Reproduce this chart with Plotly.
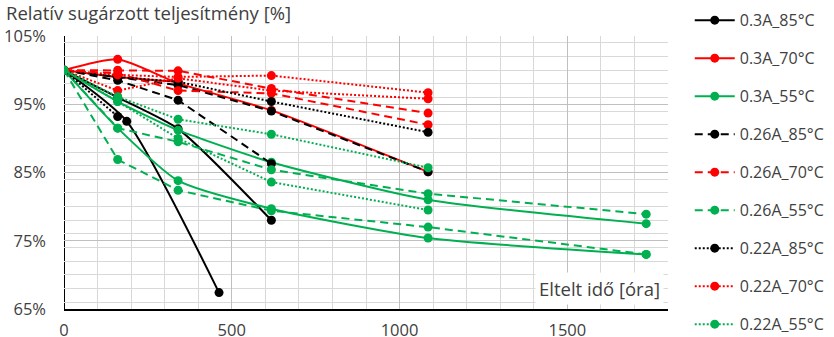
import plotly.graph_objects as go

# ---- data (hours, relative radiant power %) ----
x_030_85_a = [0, 187, 462]
y_030_85_a = [100, 92.5, 67.4]
x_030_85_b = [0, 160, 340, 618]
y_030_85_b = [100, 96.0, 91.4, 78.0]

x_030_70_a = [0, 160, 340, 618, 1085]
y_030_70_a = [100, 101.6, 98.1, 94.1, 85.1]
x_030_70_b = [0, 160, 340]
y_030_70_b = [100, 99.0, 98.3]

x_030_55_a = [0, 160, 340, 618, 1085, 1735]
y_030_55_a = [100, 95.4, 91.2, 86.5, 81.0, 77.5]
x_030_55_b = [0, 160, 340, 618, 1085, 1735]
y_030_55_b = [100, 91.5, 83.8, 79.7, 75.4, 73.0]

x_026_85_a = [0, 160, 340, 618, 1085]
y_026_85_a = [100, 99.0, 97.8, 94.0, 85.1]
x_026_85_b = [0, 160, 340, 618]
y_026_85_b = [100, 98.5, 95.6, 86.3]

x_026_70_a = [0, 160, 340, 618, 1085]
y_026_70_a = [100, 100.0, 99.9, 97.3, 93.7]
x_026_70_b = [0, 160, 340, 618, 1085]
y_026_70_b = [100, 99.5, 97.0, 96.6, 92.0]

x_026_55_a = [0, 160, 340, 618, 1085, 1735]
y_026_55_a = [100, 86.9, 82.4, 79.4, 77.0, 73.0]
x_026_55_b = [0, 160, 340, 618, 1085, 1735]
y_026_55_b = [100, 91.5, 89.5, 85.4, 81.9, 78.9]

x_022_85_a = [0, 160, 340, 618, 1085]
y_022_85_a = [100, 99.0, 98.3, 95.4, 90.9]
x_022_85_b = [0, 160]
y_022_85_b = [100, 93.2]

x_022_70_a = [0, 160, 340, 618, 1085]
y_022_70_a = [100, 99.3, 99.0, 99.2, 96.7]
x_022_70_b = [0, 160, 340, 618, 1085]
y_022_70_b = [100, 97.0, 98.8, 97.0, 95.8]

x_022_55_a = [0, 160, 340, 618, 1085]
y_022_55_a = [100, 96.1, 92.8, 90.6, 85.7]
x_022_55_b = [0, 160, 340, 618, 1085]
y_022_55_b = [100, 95.4, 90.0, 83.6, 79.5]

series_names = ["0.3A_85°C", "0.3A_70°C", "0.3A_55°C",
                "0.26A_85°C", "0.26A_70°C", "0.26A_55°C",
                "0.22A_85°C", "0.22A_70°C", "0.22A_55°C"]

y_tick_vals = [65, 75, 85, 95, 105]
y_tick_text = ["65%", "75%", "85%", "95%", "105%"]
x_tick_vals = [0, 500, 1000, 1500]

# ---- styling ----
BLACK, RED, GREEN = "#000000", "#FF0000", "#00B050"
DOT = "2px,2px"
DASH = "8px,5px"
groups = [
    (series_names[0], BLACK, "solid", True, [(x_030_85_a, y_030_85_a), (x_030_85_b, y_030_85_b)]),
    (series_names[1], RED, "solid", True, [(x_030_70_a, y_030_70_a), (x_030_70_b, y_030_70_b)]),
    (series_names[2], GREEN, "solid", True, [(x_030_55_a, y_030_55_a), (x_030_55_b, y_030_55_b)]),
    (series_names[3], BLACK, DASH, False, [(x_026_85_a, y_026_85_a), (x_026_85_b, y_026_85_b)]),
    (series_names[4], RED, DASH, False, [(x_026_70_a, y_026_70_a), (x_026_70_b, y_026_70_b)]),
    (series_names[5], GREEN, DASH, False, [(x_026_55_a, y_026_55_a), (x_026_55_b, y_026_55_b)]),
    (series_names[6], BLACK, DOT, False, [(x_022_85_a, y_022_85_a), (x_022_85_b, y_022_85_b)]),
    (series_names[7], RED, DOT, False, [(x_022_70_a, y_022_70_a), (x_022_70_b, y_022_70_b)]),
    (series_names[8], GREEN, DOT, False, [(x_022_55_a, y_022_55_a), (x_022_55_b, y_022_55_b)]),
]

fig = go.Figure()
for name, color, dash, smooth, lines in groups:
    for i, (xs, ys) in enumerate(lines):
        fig.add_trace(go.Scatter(
            x=xs, y=ys, mode="lines+markers", name=name,
            legendgroup=name, showlegend=(i == 0),
            line=dict(color=color, width=2, dash=dash,
                      shape="spline" if smooth else "linear", smoothing=0.6),
            marker=dict(color=color, size=9),
        ))

TXT = "#404040"
FONT = "Open Sans"
fig.update_layout(
    width=834, height=337,
    margin=dict(l=64, r=166, t=36, b=28, autoexpand=False),
    paper_bgcolor="white", plot_bgcolor="white",
    font=dict(family=FONT, color=TXT, size=16),
    legend=dict(x=1.036, y=1.12, xanchor="left", yanchor="top",
                font=dict(size=16, color=TXT), tracegroupgap=14.2,
                itemwidth=40, bgcolor="rgba(0,0,0,0)", maxheight=400),
    xaxis=dict(range=[0, 1800], tickvals=x_tick_vals, showgrid=True,
               gridcolor="#BFBFBF", gridwidth=1, automargin=False,
               minor=dict(dtick=100, showgrid=True, gridcolor="#D9D9D9", gridwidth=1),
               showline=True, linecolor="black", linewidth=2,
               zeroline=False, ticks="", ticklabelstandoff=5,
               tickfont=dict(size=16.5, color=TXT)),
    yaxis=dict(range=[65, 105], tickvals=y_tick_vals, ticktext=y_tick_text,
               showgrid=True, gridcolor="#BFBFBF", gridwidth=1, automargin=False,
               minor=dict(dtick=2, showgrid=True, gridcolor="#D9D9D9", gridwidth=1),
               showline=False, zeroline=False, ticks="", ticklabelstandoff=17,
               tickfont=dict(size=16.5, color=TXT)),
    annotations=[
        dict(text="Relatív sugárzott teljesítmény [%]", xref="paper", yref="paper",
             x=-0.099, y=1.086, xanchor="left", yanchor="middle", showarrow=False,
             font=dict(size=18.5, color=TXT)),
        dict(text="Eltelt idő [óra]", xref="paper", yref="paper",
             x=0.993, y=0.015, xanchor="right", yanchor="bottom", showarrow=False,
             bgcolor="white", borderpad=3, font=dict(size=18.5, color=TXT)),
    ],
    shapes=[dict(type="line", xref="x", yref="paper", x0=0, x1=0, y0=0, y1=1,
                 line=dict(color="black", width=2), layer="below")],
)

fig.write_html("out.html", config={"displayModeBar": False},
               post_script="document.body.style.margin='0';document.body.style.padding='0';")
